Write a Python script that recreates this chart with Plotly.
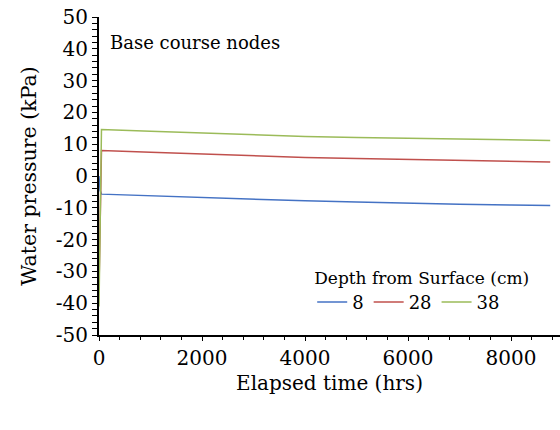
import plotly.graph_objects as go

hours = [0, 20, 48, 1000, 2000, 3000, 4000, 5000, 6000, 7000, 8000, 8760]
depth_8 = [0.0, -4.5, -5.7, -6.25, -6.8, -7.3, -7.8, -8.2, -8.6, -8.9, -9.15, -9.3]
depth_28 = [-35.0, -20.0, 8.0, 7.45, 6.9, 6.35, 5.85, 5.5, 5.15, 4.85, 4.6, 4.4]
depth_38 = [-41.0, -10.0, 14.6, 14.05, 13.5, 12.95, 12.45, 12.1, 11.8, 11.55, 11.35, 11.2]

y_ticks = [-50, -40, -30, -20, -10, 0, 10, 20, 30, 40, 50]
y_tick_text = [str(v) for v in y_ticks]
x_ticks = [0, 2000, 4000, 6000, 8000]

series = [("8", depth_8, "#4472C4"), ("28", depth_28, "#C0504D"), ("38", depth_38, "#9BBB59")]

FONT = "DejaVu Serif"

fig = go.Figure()
for name, vals, col in series:
    fig.add_trace(go.Scatter(x=hours, y=vals, mode="lines", name=name,
                             line=dict(color=col, width=1.5)))

fig.update_layout(
    width=560, height=430,
    margin=dict(l=99, r=0, t=17, b=95),
    paper_bgcolor="white", plot_bgcolor="white",
    font=dict(family=FONT, size=20, color="black"),
    showlegend=True,
    legend=dict(
        orientation="h",
        x=0.70, y=0.045, xanchor="center", yanchor="bottom",
        title=dict(text="Depth from Surface (cm)", side="top center",
                   font=dict(family=FONT, size=17)),
        font=dict(family=FONT, size=18),
        itemwidth=30,
        bgcolor="rgba(0,0,0,0)",
    ),
    annotations=[dict(text="Base course nodes", x=0.02, y=0.96, xref="paper", yref="paper",
                      xanchor="left", yanchor="top", showarrow=False,
                      font=dict(family=FONT, size=18))],
)

fig.update_xaxes(
    range=[0, 8950], tickvals=x_ticks,
    showline=True, linecolor="black", linewidth=2,
    ticks="outside", ticklen=4, tickcolor="black", tickwidth=1,
    minor=dict(dtick=400, ticks="outside", ticklen=3, tickcolor="black"),
    showgrid=False, zeroline=False,
    title=dict(text="Elapsed time (hrs)", font=dict(family=FONT, size=20), standoff=7),
    tickfont=dict(family=FONT, size=20),
)
fig.update_yaxes(
    range=[-50, 50], tickvals=y_ticks, ticktext=y_tick_text,
    showline=True, linecolor="black", linewidth=2,
    ticks="outside", ticklen=5, tickcolor="black", tickwidth=1,
    minor=dict(dtick=2, ticks="outside", ticklen=5, tickcolor="black"),
    showgrid=False, zeroline=False,
    title=dict(text="Water pressure (kPa)", font=dict(family=FONT, size=20.5), standoff=14),
    tickfont=dict(family=FONT, size=20),
)

fig.write_html("out.html")
